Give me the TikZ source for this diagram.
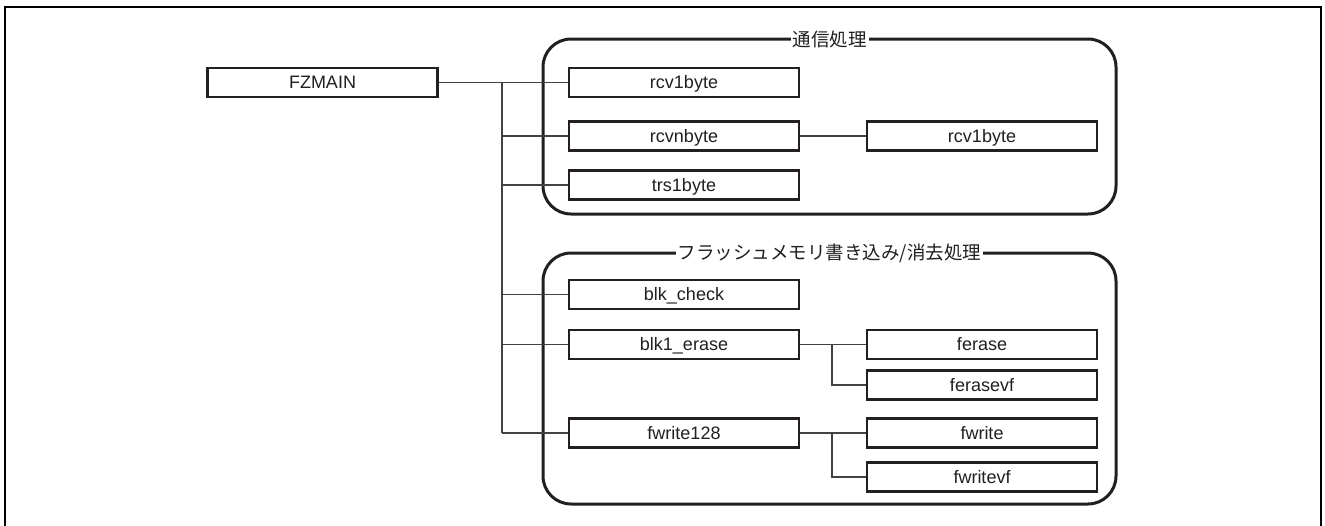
\documentclass[tikz,border=0pt]{standalone}
\usepackage{fontspec}
\setmainfont{Liberation Sans}
\newfontfamily\jpfont{Noto Sans CJK JP}
\definecolor{ink}{HTML}{231F20}
\begin{document}
\begin{tikzpicture}[x=1pt,y=-1pt,
  fbox/.style={draw=ink,line width=2.6pt,fill=white,minimum width=230pt,minimum height=29pt,inner sep=0pt,text height=15.5pt,text depth=3pt,font=\fontsize{18}{18}\selectfont,text=ink},
  conn/.style={draw=ink!85,line width=1.2pt},
  grp/.style={draw=ink,line width=3pt,rounded corners=28pt},
  gtitle/.style={fill=white,inner sep=2pt,font=\jpfont\fontsize{18.5}{18.5}\selectfont,text=ink}]
\useasboundingbox (0,0) rectangle (1325,525);
% outer frame
\draw[line width=2.2pt,black] (5,526) -- (5,7) -- (1321,7) -- (1321,526);
% groups
\draw[grp] (543,39) rectangle (1116,214);
\draw[grp] (543,253) rectangle (1116,504);
% nodes
\node[fbox] (fz) at (322.5,82.5) {FZMAIN};
\node[fbox] (a1) at (684,82.5) {rcv1byte};
\node[fbox] (a2) at (684,136) {rcvnbyte};
\node[fbox] (a3) at (684,185) {trs1byte};
\node[fbox] (a4) at (982,136) {rcv1byte};
\node[fbox] (b1) at (684,294.5) {blk\_check};
\node[fbox] (b2) at (684,344.5) {blk1\_erase};
\node[fbox] (b3) at (684,433) {fwrite128};
\node[fbox] (c1) at (982,344.5) {ferase};
\node[fbox] (c2) at (982,385) {ferasevf};
\node[fbox] (c3) at (982,433) {fwrite};
\node[fbox] (c4) at (982,477) {fwritevf};
% titles
\node[gtitle] (t1) at (829.5,39) {通信処理};
\node[gtitle] (t2) at (829.5,253) {フラッシュメモリ書き込み/消去処理};
% connectors
\coordinate (tx) at (502,0);
\coordinate (bx) at (832,0);
\draw[conn] (fz.east) -- (a1.west);
\draw[conn] (tx |- fz.east) -- (tx |- b3.west);
\draw[conn] (tx |- a2.west) -- (a2.west);
\draw[conn] (tx |- a3.west) -- (a3.west);
\draw[conn] (tx |- b1.west) -- (b1.west);
\draw[conn] (tx |- b2.west) -- (b2.west);
\draw[conn] (tx |- b3.west) -- (b3.west);
\draw[conn] (a2.east) -- (a4.west);
\draw[conn] (b2.east) -- (c1.west);
\draw[conn] (bx |- c1.west) -- (bx |- c2.west) -- (c2.west);
\draw[conn] (b3.east) -- (c3.west);
\draw[conn] (bx |- c3.west) -- (bx |- c4.west) -- (c4.west);
\end{tikzpicture}
\end{document}
